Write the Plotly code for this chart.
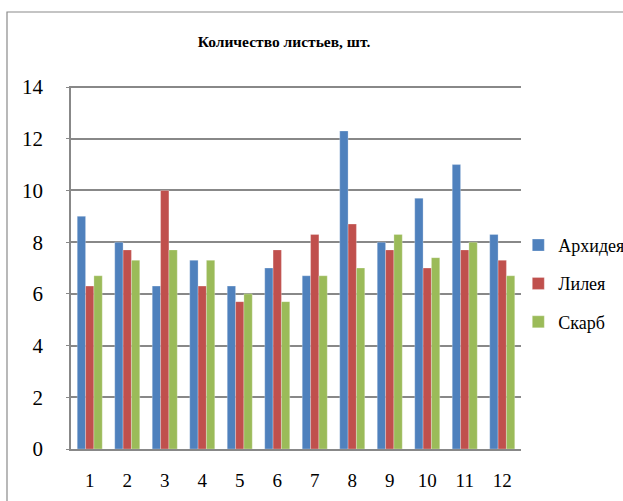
import plotly.graph_objects as go

# Количество листьев по номерам растений
categories = [str(i) for i in range(1, 13)]
arkhideya = [9.0, 8.0, 6.3, 7.3, 6.3, 7.0, 6.7, 12.3, 8.0, 9.7, 11.0, 8.3]
lileya = [6.3, 7.7, 10.0, 6.3, 5.7, 7.7, 8.3, 8.7, 7.7, 7.0, 7.7, 7.3]
skarb = [6.7, 7.3, 7.7, 7.3, 6.0, 5.7, 6.7, 7.0, 8.3, 7.4, 8.0, 6.7]

series = [
    ("Архидея", arkhideya, "#4F81BD"),
    ("Лилея", lileya, "#C0504D"),
    ("Скарб", skarb, "#9BBB59"),
]

serif = "Liberation Serif"

fig = go.Figure()
for i, (name, vals, color) in enumerate(series):
    fig.add_trace(go.Bar(
        x=categories, y=vals, name=name,
        legendgroup=f"g{i}",
        marker=dict(color=color, line=dict(color="rgba(255,255,255,0.45)", width=0.6)),
    ))

fig.update_layout(
    width=623, height=501,
    margin=dict(l=71, r=102, t=86, b=52, autoexpand=False),
    paper_bgcolor="white", plot_bgcolor="white",
    barmode="group", bargap=0.333, bargroupgap=0,
    title=dict(
        text="<b>Количество листьев, шт.</b>",
        font=dict(family=serif, size=15.5, color="black"),
        x=284 / 623, xanchor="center",
        y=1 - 42 / 501, yanchor="middle",
    ),
    font=dict(family=serif, color="black"),
    legend=dict(
        x=0.994, xanchor="left", y=0.455, yanchor="middle",
        font=dict(family=serif, size=18, color="black"),
        tracegroupgap=12, bgcolor="rgba(0,0,0,0)",
    ),
    showlegend=True,
)

fig.update_xaxes(
    type="category", automargin=False,
    showline=True, linecolor="#888888", linewidth=1.5,
    showgrid=False, ticks="", ticklabelstandoff=13,
    tickfont=dict(family=serif, size=19, color="black"),
)
fig.update_yaxes(
    range=[0, 14.04], dtick=2, tick0=0, automargin=False,
    showline=True, linecolor="#888888", linewidth=1.5,
    showgrid=True, gridcolor="#888888", gridwidth=1.5,
    zeroline=False,
    ticks="outside", ticklen=3, tickcolor="#888888",
    ticklabelstandoff=19,
    tickfont=dict(family=serif, size=21, color="black"),
)

# Рамка области диаграммы
fig.add_shape(
    type="rect", xref="paper", yref="paper",
    x0=(7 - 71) / 450, x1=2.0, y0=-1.0, y1=(449 - 12) / 363,
    line=dict(color="#8a8a8a", width=1.2), fillcolor="rgba(0,0,0,0)",
    layer="below",
)

fig.write_html("out.html")
